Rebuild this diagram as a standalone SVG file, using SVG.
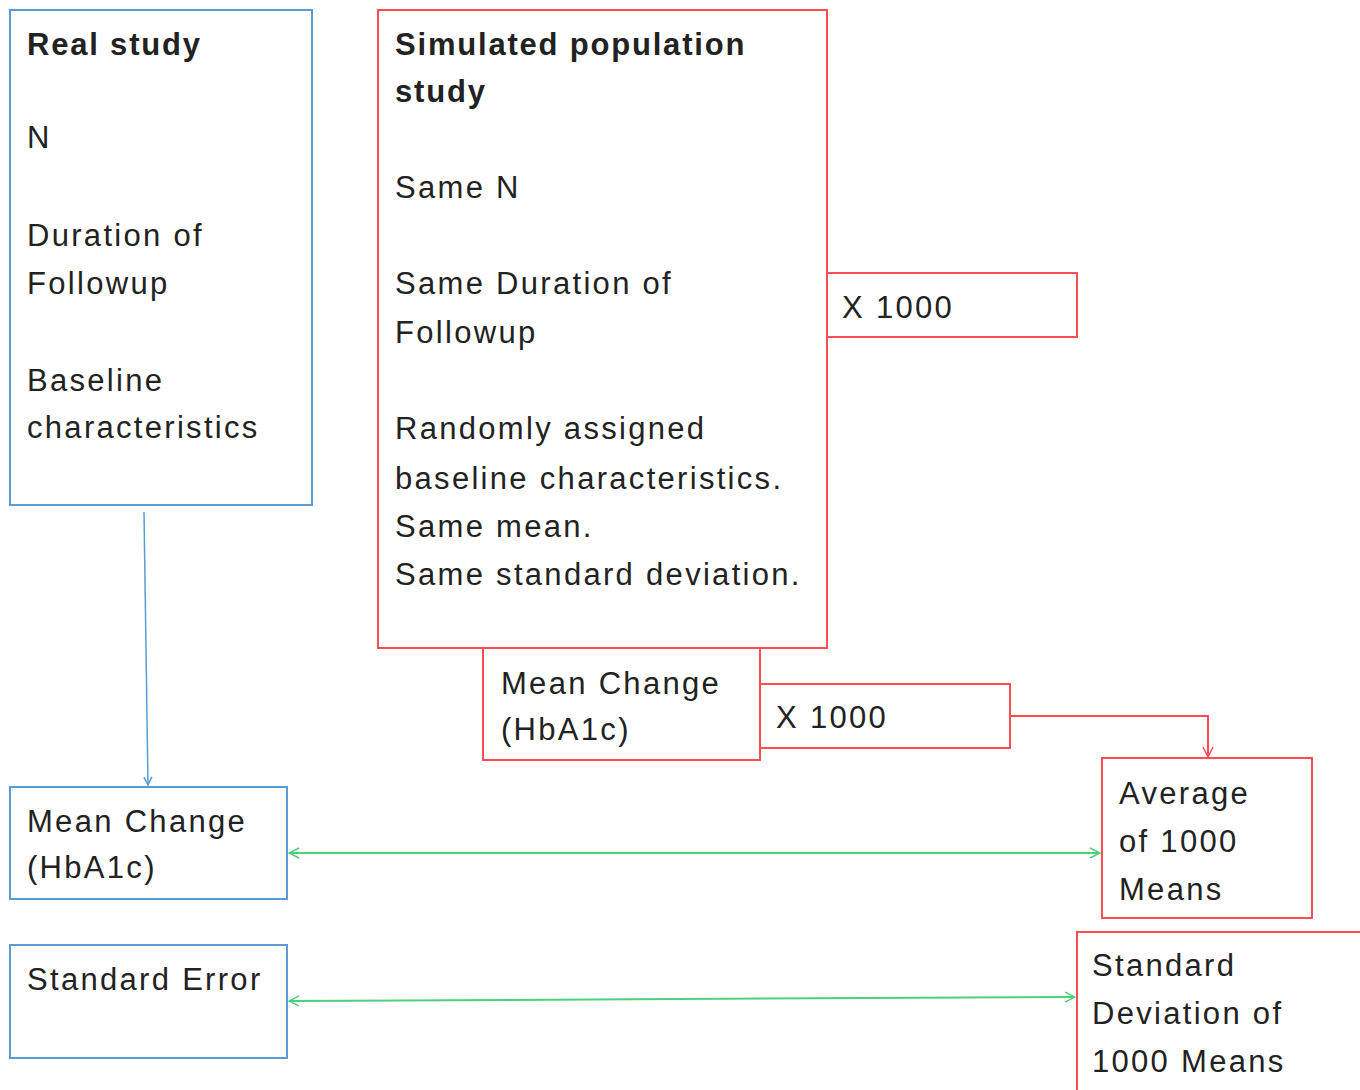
<svg xmlns="http://www.w3.org/2000/svg" width="1360" height="1090" viewBox="0 0 1360 1090">
<style>
text{font-family:"Liberation Sans",Arial,sans-serif;font-size:31px;fill:#222;letter-spacing:2.3px}
.b{font-weight:bold;letter-spacing:1.8px}
.blue{fill:#fff;stroke:#5b9bd5;stroke-width:2}
.red{fill:#fff;stroke:#ff4d55;stroke-width:2}
.cb{fill:none;stroke:#5b9bd5;stroke-width:1.5}
.cr{fill:none;stroke:#ff4d55;stroke-width:2}
.cg{fill:none;stroke:#4cd07d;stroke-width:2}
</style>
<defs>
<marker id="ab" viewBox="0 0 10 10" refX="9" refY="5" markerWidth="10" markerHeight="10" markerUnits="userSpaceOnUse" orient="auto-start-reverse"><path d="M1,1 L9,5 L1,9" fill="none" stroke="#5b9bd5" stroke-width="1.5"/></marker>
<marker id="ar" viewBox="0 0 12 12" refX="11" refY="6" markerWidth="12" markerHeight="12" markerUnits="userSpaceOnUse" orient="auto-start-reverse"><path d="M1,1 L11,6 L1,11" fill="none" stroke="#ff4d55" stroke-width="1.5"/></marker>
<marker id="ag" viewBox="0 0 12 12" refX="11" refY="6" markerWidth="12" markerHeight="12" markerUnits="userSpaceOnUse" orient="auto-start-reverse"><path d="M1,1 L11,6 L1,11" fill="none" stroke="#4cd07d" stroke-width="1.5"/></marker>
</defs>
<rect width="1360" height="1090" fill="#fff"/>
<g id="real-study">
<rect class="blue" x="10" y="10" width="302" height="495"/>
<text class="b" x="27" y="55">Real study</text>
<text x="27" y="148">N</text>
<text x="27" y="246">Duration of</text>
<text x="27" y="294">Followup</text>
<text x="27" y="391">Baseline</text>
<text x="27" y="438">characteristics</text>
</g>
<g id="simulated-study">
<rect class="red" x="378" y="10" width="449" height="638"/>
<text class="b" x="395" y="55">Simulated population</text>
<text class="b" x="395" y="102">study</text>
<text x="395" y="198">Same N</text>
<text x="395" y="294">Same Duration of</text>
<text x="395" y="343">Followup</text>
<text x="395" y="439">Randomly assigned</text>
<text x="395" y="489">baseline characteristics.</text>
<text x="395" y="537">Same mean.</text>
<text x="395" y="585">Same standard deviation.</text>
</g>
<g id="x1000-a">
<rect class="red" x="827" y="273" width="250" height="64"/>
<text x="842" y="318">X 1000</text>
</g>
<g id="sim-mean-change">
<rect class="red" x="483" y="648" width="277" height="112"/>
<text x="501" y="694">Mean Change</text>
<text x="501" y="740">(HbA1c)</text>
</g>
<g id="x1000-b">
<rect class="red" x="760" y="684" width="250" height="64"/>
<text x="776" y="728">X 1000</text>
</g>
<g id="average">
<rect class="red" x="1102" y="758" width="210" height="160"/>
<text x="1119" y="804">Average</text>
<text x="1119" y="852">of 1000</text>
<text x="1119" y="900">Means</text>
</g>
<g id="real-mean-change">
<rect class="blue" x="10" y="787" width="277" height="112"/>
<text x="27" y="832">Mean Change</text>
<text x="27" y="878">(HbA1c)</text>
</g>
<g id="standard-error">
<rect class="blue" x="10" y="945" width="277" height="113"/>
<text x="27" y="990">Standard Error</text>
</g>
<g id="standard-deviation">
<path class="red" d="M1362,932 L1077,932 L1077,1092"/>
<text x="1092" y="976">Standard</text>
<text x="1092" y="1024">Deviation of</text>
<text x="1092" y="1072">1000 Means</text>
</g>
<g id="connectors">
<path class="cb" d="M144,512 L148,785" marker-end="url(#ab)"/>
<path class="cr" d="M1010,716 L1208,716 L1208,757" marker-end="url(#ar)"/>
<path class="cg" d="M289,853 L1100,853" marker-start="url(#ag)" marker-end="url(#ag)"/>
<path class="cg" d="M289,1001 L1075,997" marker-start="url(#ag)" marker-end="url(#ag)"/>
</g>
</svg>
